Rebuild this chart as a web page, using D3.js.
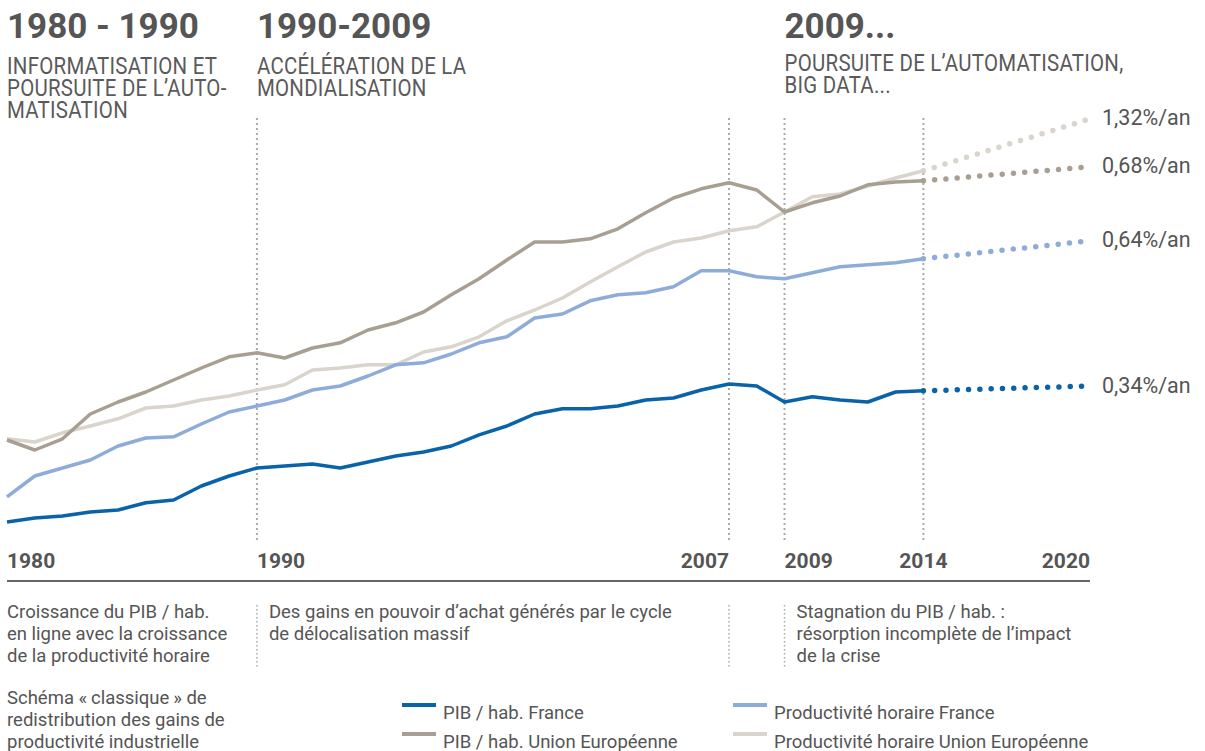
<!DOCTYPE html>
<html>
<head>
<meta charset="utf-8">
<script src="https://cdn.jsdelivr.net/npm/d3@7"></script>
<style>
	body { margin: 0; background: #fff; }
	svg { display: block; }
	text { fill: #555; }
</style>
</head>
<body>
<svg></svg>
<script>
//Canvas settings
var width = 1205;
var height = 751;
var canvas;

//Years of the data points (the first point is labelled 1980 on the axis)
var years = [1981, 1982, 1983, 1984, 1985, 1986, 1987, 1988, 1989, 1990,
	1991, 1992, 1993, 1994, 1995, 1996, 1997, 1998, 1999, 2000,
	2001, 2002, 2003, 2004, 2005, 2006, 2007, 2008, 2009, 2010,
	2011, 2012, 2013, 2014];
var projYear = 2020;

//Series values (index)
var pibFrance = [4.5, 5.5, 6, 7, 7.5, 9.3, 10, 13.5, 16, 18,
	18.5, 19, 18, 19.5, 21, 22, 23.5, 26.3, 28.5, 31.5,
	32.8, 32.8, 33.5, 35, 35.5, 37.5, 39, 38.5, 34.5, 35.8,
	35, 34.5, 37, 37.3];
var pibUE = [25, 22.5, 25.3, 31.5, 34.5, 37, 40, 43, 45.8, 46.8,
	45.5, 48, 49.3, 52.5, 54.3, 57, 61.3, 65.3, 70, 74.5,
	74.5, 75.3, 77.8, 81.8, 85.5, 87.8, 89.3, 87.5, 82, 84.3,
	86, 88.8, 89.5, 89.8];
var prodFrance = [10.8, 16, 18, 20, 23.5, 25.5, 25.8, 29, 32, 33.5,
	35, 37.5, 38.5, 41, 43.8, 44.3, 46.5, 49.3, 50.8, 55.5,
	56.5, 59.8, 61.3, 61.8, 63.3, 67.3, 67.3, 65.8, 65.3, 66.8,
	68.3, 68.8, 69.3, 70.3];
var prodUE = [25.3, 24.5, 26.8, 28.5, 30.3, 33, 33.5, 35, 36, 37.5,
	38.8, 42.5, 43, 43.8, 43.8, 47, 48.3, 50.8, 54.8, 57.5,
	60.5, 64.5, 68.3, 72, 74.5, 75.5, 77.3, 78.3, 82, 85.8,
	86.5, 88.5, 90.5, 92.3];

//Projected values in 2020 and their yearly growth
var projValues = [38.5, 93.3, 74.8, 105.3];
var projLabels = ["0,34%/an", "0,68%/an", "0,64%/an", "1,32%/an"];

var seriesNames = ["PIB / hab. France", "PIB / hab. Union Européenne",
	"Productivité horaire France", "Productivité horaire Union Européenne"];
var seriesColors = ["#0863a8", "#a89f92", "#8eacda", "#d9d4cc"];

//Axis
var tickYears = [1981, 1990, 2007, 2009, 2014, 2020];
var tickLabels = ["1980", "1990", "2007", "2009", "2014", "2020"];
var tickAnchors = ["start", "start", "end", "start", "middle", "end"];
var markerYears = [1990, 2007, 2009, 2014];

//Period headings
var periodYears = [1981, 1990, 2009];
var periodTitles = ["1980 - 1990", "1990-2009", "2009..."];
var periodSubtitles = [
	["INFORMATISATION ET", "POURSUITE DE L\u2019AUTO-", "MATISATION"],
	["ACCÉLÉRATION DE LA", "MONDIALISATION"],
	["POURSUITE DE L\u2019AUTOMATISATION,", "BIG DATA..."]
];

//Comments under the axis
var noteYears = [1981, 1990, 2009];
var notes = [
	["Croissance du PIB / hab.", "en ligne avec la croissance", "de la productivité horaire"],
	["Des gains en pouvoir d\u2019achat générés par le cycle", "de délocalisation massif"],
	["Stagnation du PIB / hab. :", "résorption incomplète de l\u2019impact", "de la crise"]
];
var noteSeparators = [1990, 2007, 2009];
var schema = ["Schéma «\u2009classique\u2009» de", "redistribution des gains de", "productivité industrielle"];

window.onload = function () {
	canvas = d3.select("svg")
		.attr("width", width)
		.attr("height", height);

	var x = d3.scaleLinear().domain([1981, 2020]).range([7, 1090]);
	var y = d3.scaleLinear().domain([0, 100]).range([540, 140]);

	drawHeadings(x);
	drawMarkers(x);
	drawSeries(x, y);
	drawAxis(x);
	drawNotes(x);
	drawLegend();
}

function drawHeadings(x) {
	var g = canvas.append("g");
	periodTitles.forEach(function(t, i) {
		g.append("text")
			.attr("x", x(periodYears[i]))
			.attr("y", 38)
			.style("font-family", "Roboto, 'Liberation Sans', sans-serif")
			.style("font-weight", "bold")
			.style("font-size", "35px")
			.style("fill", "#555")
			.text(t);

		//subtitles are condensed by squeezing the group horizontally
		var sub = g.append("g")
			.attr("transform", "translate(" + x(periodYears[i]) + "," + (i == 2 ? 71 : 73.5) + ") scale(0.87,1)")
			.append("text")
			.style("font-family", "Roboto, sans-serif")
			.style("font-size", "23.5px")
			.style("letter-spacing", "0.3px")
			.style("fill", "#5a5a5a");
		sub.selectAll("tspan")
			.data(periodSubtitles[i])
			.enter().append("tspan")
			.attr("x", 0)
			.attr("dy", function(d, j) { return j == 0 ? 0 : 22.5; })
			.text(function(d) { return d; });
	});
}

//vertical dotted lines at the key years
function drawMarkers(x) {
	canvas.append("g").selectAll("line")
		.data(markerYears)
		.enter().append("line")
		.attr("x1", function(d) { return x(d); })
		.attr("x2", function(d) { return x(d); })
		.attr("y1", 118)
		.attr("y2", 541)
		.attr("stroke", "#aaa")
		.attr("stroke-width", 2)
		.attr("stroke-dasharray", "2,3");
}

function drawSeries(x, y) {
	var allSeries = [pibFrance, pibUE, prodFrance, prodUE];
	//draw order: lighter lines first
	var order = [3, 2, 1, 0];
	var line = d3.line()
		.x(function(d, i) { return x(years[i]); })
		.y(function(d) { return y(d); });

	var g = canvas.append("g");
	order.forEach(function(k) {
		var vals = allSeries[k];
		var last = vals.length - 1;
		//projection to 2020
		g.append("path")
			.attr("d", d3.line()([[x(years[last]), y(vals[last])], [x(projYear), y(projValues[k])]]))
			.attr("fill", "none")
			.attr("stroke", seriesColors[k])
			.attr("stroke-width", 5.5)
			.attr("stroke-linecap", "round")
			.attr("stroke-dasharray", "0,11.3");

		g.append("path")
			.datum(vals)
			.attr("d", line)
			.attr("fill", "none")
			.attr("stroke", seriesColors[k])
			.attr("stroke-width", 3.5)
			.attr("stroke-linejoin", "round");

		g.append("text")
			.attr("x", x(projYear) + 12)
			.attr("y", y(projValues[k]) - 1)
			.attr("dy", "0.35em")
			.style("font-family", "Roboto, sans-serif")
			.style("font-size", "21.5px")
			.style("fill", "#555")
			.text(projLabels[k]);
	});
}

function drawAxis(x) {
	var g = canvas.append("g");
	g.append("line")
		.attr("x1", x(1981))
		.attr("x2", x(2020))
		.attr("y1", 581)
		.attr("y2", 581)
		.attr("stroke", "#666")
		.attr("stroke-width", 2);

	g.selectAll("text")
		.data(tickYears)
		.enter().append("text")
		.attr("x", function(d) { return x(d); })
		.attr("y", 568)
		.attr("text-anchor", function(d, i) { return tickAnchors[i]; })
		.style("font-family", "Roboto, sans-serif")
		.style("font-weight", "bold")
		.style("font-size", "21px")
		.style("fill", "#555")
		.text(function(d, i) { return tickLabels[i]; });
}

function drawNotes(x) {
	var g = canvas.append("g");
	var font = "Roboto, sans-serif";

	g.selectAll("line")
		.data(noteSeparators)
		.enter().append("line")
		.attr("x1", function(d) { return x(d); })
		.attr("x2", function(d) { return x(d); })
		.attr("y1", 605)
		.attr("y2", 667)
		.attr("stroke", "#aaa")
		.attr("stroke-width", 1.5)
		.attr("stroke-dasharray", "1.5,2.5");

	notes.forEach(function(lines, i) {
		var x0 = x(noteYears[i]) + (i == 0 ? 0 : 12);
		var t = g.append("text")
			.attr("x", x0)
			.attr("y", 618)
			.style("font-family", font)
			.style("font-size", "18.5px")
			.style("fill", "#555");
		t.selectAll("tspan")
			.data(lines)
			.enter().append("tspan")
			.attr("x", x0)
			.attr("dy", function(d, j) { return j == 0 ? 0 : 22; })
			.text(function(d) { return d; });
	});

	var s = g.append("text")
		.attr("x", x(1981))
		.attr("y", 704)
		.style("font-family", font)
		.style("font-size", "18.5px")
		.style("fill", "#555");
	s.selectAll("tspan")
		.data(schema)
		.enter().append("tspan")
		.attr("x", x(1981))
		.attr("dy", function(d, j) { return j == 0 ? 0 : 22; })
		.text(function(d) { return d; });
}

function drawLegend() {
	var g = canvas.append("g");
	var cols = [402, 733];
	var rows = [705, 734];
	//series 0,1 in the left column, 2,3 in the right one
	seriesNames.forEach(function(name, i) {
		var cx = cols[Math.floor(i / 2)];
		var cy = rows[i % 2];
		g.append("line")
			.attr("x1", cx)
			.attr("x2", cx + 34)
			.attr("y1", cy)
			.attr("y2", cy)
			.attr("stroke", seriesColors[i])
			.attr("stroke-width", 4);
		g.append("text")
			.attr("x", cx + 41)
			.attr("y", cy + 14)
			.style("font-family", "Roboto, sans-serif")
			.style("font-size", "18.5px")
			.style("fill", "#555")
			.text(name);
	});
}
</script>
</body>
</html>
